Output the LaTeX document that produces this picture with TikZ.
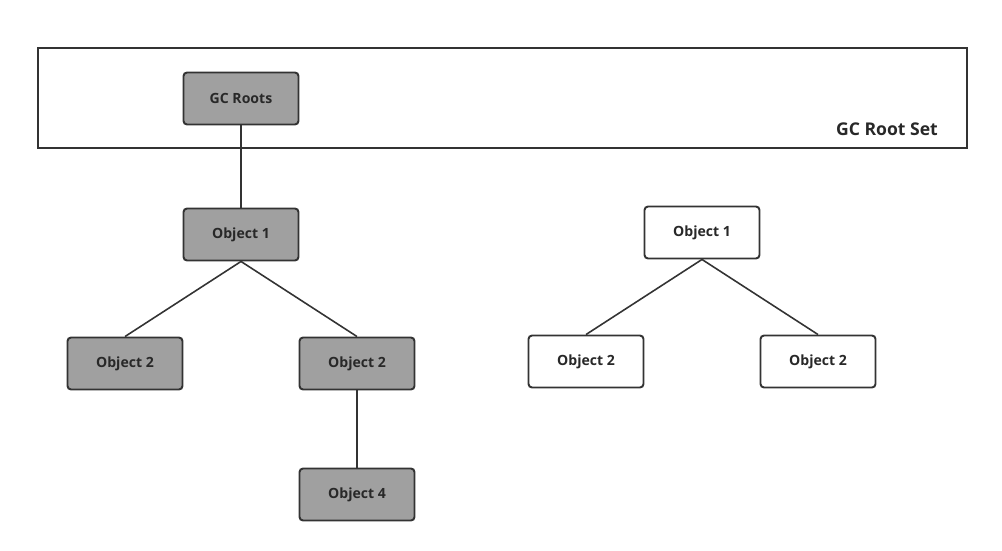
\documentclass[tikz,border=0pt]{standalone}
\usepackage{fontspec}
\setmainfont{Open Sans}
\usepackage{tikz}
\definecolor{objgray}{RGB}{160, 160, 160}
\definecolor{edgedark}{RGB}{51, 51, 51}
\definecolor{labeldark}{RGB}{40, 40, 40}

\begin{document}
\begin{tikzpicture}[
    every node/.style={font=\bfseries\fontsize{8}{10}\selectfont, text=labeldark},
    objbox/.style={draw=edgedark, line width=1.1pt, rounded corners=2pt, minimum width=2.3cm, minimum height=1.04cm, inner sep=0pt},
    reached/.style={objbox, fill=objgray},
    unreached/.style={objbox, fill=white},
    link/.style={draw=edgedark, line width=0.9pt}
]
    \useasboundingbox (0,0) rectangle (20.04,-11);

    % GC Root Set
    \node[draw=edgedark, line width=1.1pt, minimum width=18.58cm, minimum height=2cm, inner sep=0pt] (rootset) at (10.05,-1.96) {};
    \node[font=\bfseries\fontsize{10}{12}\selectfont] (rootlabel) at (17.74,-2.58) {GC Root Set};
    \node[reached] (roots) at (4.82,-1.97) {GC Roots};

    % Reachable objects
    \node[reached] (objA) at (4.82,-4.69) {Object 1};
    \node[reached] (objB) at (2.5,-7.27) {Object 2};
    \node[reached] (objC) at (7.14,-7.27) {Object 2};
    \node[reached] (objD) at (7.14,-9.89) {Object 4};

    % Unreachable objects
    \node[unreached] (deadA) at (14.04,-4.65) {Object 1};
    \node[unreached] (deadB) at (11.72,-7.23) {Object 2};
    \node[unreached] (deadC) at (16.36,-7.23) {Object 2};

    % References
    \draw[link] (roots.south) -- (objA.north);
    \draw[link] (objA.south) -- (objB.north);
    \draw[link] (objA.south) -- (objC.north);
    \draw[link] (objC.south) -- (objD.north);
    \draw[link] (deadA.south) -- (deadB.north);
    \draw[link] (deadA.south) -- (deadC.north);
\end{tikzpicture}
\end{document}
